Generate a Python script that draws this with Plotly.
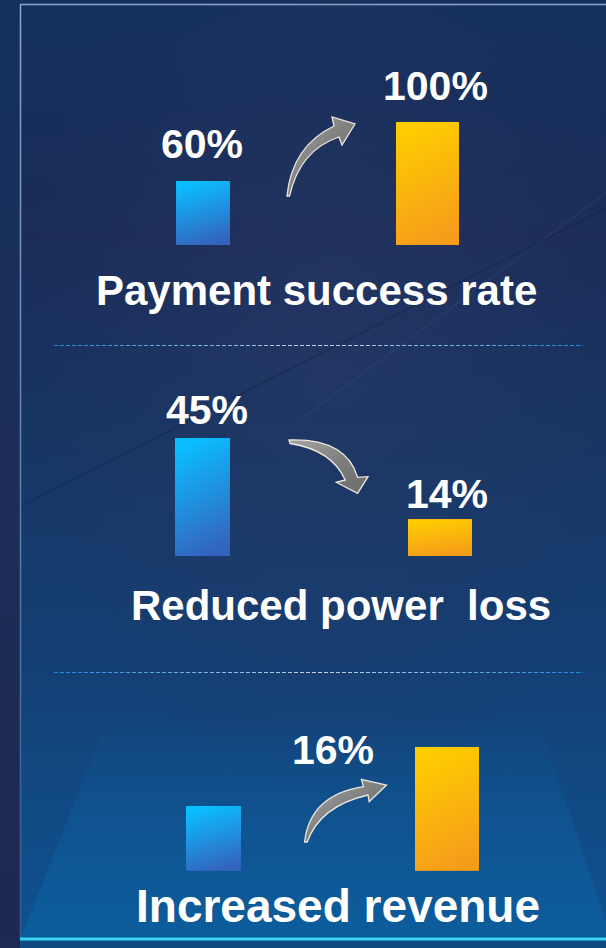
import base64
import plotly.graph_objects as go

W, H = 606, 948

# ---------------- data ----------------
stages = ["Before", "After"]
titles = ["Payment success rate", "Reduced power\u00a0 loss", "Increased revenue"]
payment_success = [60, 100]          # %
power_loss = [45, 14]                # %
revenue_index = [100, 116]           # before = 100
payment_labels = ["60%", "100%"]
power_loss_labels = ["45%", "14%"]
revenue_gain_label = "16%"

# ---------------- helpers ----------------
def fx(px):
    return px / W


def fy(py):
    return 1 - py / H


def svg_uri(svg):
    return "data:image/svg+xml;base64," + base64.b64encode(svg.encode("utf-8")).decode("ascii")


FONT = "Liberation Sans, Arial, sans-serif"

# panel layout (pixel geometry of each mini chart) - style only
panels = [
    dict(values=payment_success, labels=payment_labels, xdom=(90.75, 539.75), ydom=(245, 122),
         yr=(16.7, 100), widths=[0.24, 0.28]),
    dict(values=power_loss, labels=power_loss_labels, xdom=(83.75, 558.75), ydom=(556, 438),
         yr=(0, 45), widths=[0.232, 0.27]),
    dict(values=revenue_index, labels=None, xdom=(96.75, 563.75), ydom=(870.7, 747),
         yr=(82.45, 116), widths=[0.236, 0.274]),
]

BLUE_STOPS = ("#0abfff", "#3463be")
ORANGE_STOPS = ("#ffcd00", "#f59c1b")


def bar_svg(bw, bh, stops, r=4):
    r = min(r, bw / 2, bh / 2)
    return f'''<svg xmlns="http://www.w3.org/2000/svg" width="{bw:.2f}" height="{bh:.2f}" viewBox="0 0 {bw:.2f} {bh:.2f}" preserveAspectRatio="none">
<defs><linearGradient id="g" x1="0.35" y1="0" x2="0.6" y2="1">
<stop offset="0" stop-color="{stops[0]}"/><stop offset="1" stop-color="{stops[1]}"/></linearGradient></defs>
<path d="M0,0 H{bw:.2f} V{bh - r:.2f} Q{bw:.2f},{bh:.2f} {bw - r:.2f},{bh:.2f} H{r:.2f} Q0,{bh:.2f} 0,{bh - r:.2f} Z" fill="url(#g)"/>
</svg>'''


# ---------------- background (decoration) ----------------
arrow1 = "M287,196 Q292,146 334,126 L332,117 L355,124 L342,145 L339,137 Q300,150 289.5,196 Z"
arrow2 = "M289,440 Q346,438 357.6,477.3 L368,476.7 L357.6,493.3 L336.3,482.3 L345.2,480 Q332,450 290,443.5 Z"
arrow3 = "M304.6,842 Q310,795 363.4,786.7 L361.4,779.3 L386.5,785 L369.2,801.7 L368,795 Q320,806 307.2,842 Z"

bg_svg = f'''<svg xmlns="http://www.w3.org/2000/svg" width="{W}" height="{H}" viewBox="0 0 {W} {H}" preserveAspectRatio="none">
<defs>
<linearGradient id="bg" x1="0" y1="0" x2="0" y2="1">
<stop offset="0" stop-color="#14305c"/>
<stop offset="0.25" stop-color="#1b2c58"/>
<stop offset="0.5" stop-color="#173766"/>
<stop offset="0.7" stop-color="#143f74"/>
<stop offset="0.85" stop-color="#114a84"/>
<stop offset="1" stop-color="#0f5290"/>
</linearGradient>
<radialGradient id="glow" cx="0.55" cy="0.35" r="0.5">
<stop offset="0" stop-color="#2a3a66" stop-opacity="0.5"/>
<stop offset="1" stop-color="#2a3a66" stop-opacity="0"/>
</radialGradient>
<linearGradient id="strip" x1="0" y1="0" x2="0" y2="1">
<stop offset="0" stop-color="#13305c"/>
<stop offset="0.4" stop-color="#1c2f5a"/>
<stop offset="1" stop-color="#1e2850"/>
</linearGradient>
<linearGradient id="floor" gradientUnits="userSpaceOnUse" x1="0" y1="715" x2="0" y2="930">
<stop offset="0" stop-color="#0e5c9c" stop-opacity="0"/>
<stop offset="1" stop-color="#0c5d9c" stop-opacity="0.9"/>
</linearGradient>
<linearGradient id="frameL" gradientUnits="userSpaceOnUse" x1="0" y1="0" x2="0" y2="948">
<stop offset="0" stop-color="#8fa6cf"/>
<stop offset="1" stop-color="#2c5b92"/>
</linearGradient>
<linearGradient id="sep" gradientUnits="userSpaceOnUse" x1="54" y1="0" x2="583" y2="0">
<stop offset="0" stop-color="#1d8ad6"/>
<stop offset="0.5" stop-color="#c6d2e8"/>
<stop offset="1" stop-color="#1d8ad6"/>
</linearGradient>
<linearGradient id="af" x1="0" y1="0" x2="1" y2="1">
<stop offset="0" stop-color="#a4a4a4"/>
<stop offset="0.55" stop-color="#7c7c7c"/>
<stop offset="1" stop-color="#6c6c6c"/>
</linearGradient>
</defs>
<rect width="{W}" height="{H}" fill="url(#bg)"/>
<rect width="{W}" height="{H}" fill="url(#glow)"/>
<line x1="0" y1="517" x2="606" y2="208" stroke="#0e1c40" stroke-opacity="0.35" stroke-width="1.2"/>
<line x1="300" y1="420" x2="606" y2="193" stroke="#6f8fc4" stroke-opacity="0.12" stroke-width="1.2"/>
<polygon points="104,728 541,728 612,940 20,940" fill="url(#floor)"/>
<rect x="0" y="0" width="20" height="{H}" fill="url(#strip)"/>
<line x1="20.5" y1="4.5" x2="20.5" y2="940" stroke="url(#frameL)" stroke-width="1.5"/>
<line x1="20" y1="4.5" x2="606" y2="4.5" stroke="#8da4cc" stroke-width="1.5"/>
<rect x="20" y="941" width="586" height="7" fill="#104a80"/>
<line x1="20" y1="939" x2="606" y2="939" stroke="#38d4f0" stroke-width="3"/>
<line x1="54" y1="345.5" x2="583" y2="345.5" stroke="url(#sep)" stroke-width="1" stroke-dasharray="4 2"/>
<line x1="54" y1="672.5" x2="583" y2="672.5" stroke="url(#sep)" stroke-width="1" stroke-dasharray="4 2"/>
<g fill="url(#af)" stroke="#ece8dc" stroke-width="1.3" stroke-linejoin="miter">
<path d="{arrow1}"/><path d="{arrow2}"/><path d="{arrow3}"/>
</g>
</svg>'''

# ---------------- figure ----------------
fig = go.Figure()
layout = dict(
    width=W, height=H,
    margin=dict(l=0, r=0, t=0, b=0),
    paper_bgcolor="#163560",
    plot_bgcolor="rgba(0,0,0,0)",
    showlegend=False,
    bargap=0,
)

images = [dict(source=svg_uri(bg_svg), xref="paper", yref="paper", x=0, y=1, sizex=1, sizey=1,
               xanchor="left", yanchor="top", sizing="stretch", layer="below")]
annotations = []

for k, p in enumerate(panels):
    s = "" if k == 0 else str(k + 1)
    xname, yname = "x" + s, "y" + s
    fig.add_trace(go.Bar(
        x=stages, y=p["values"], width=p["widths"],
        marker=dict(color=[BLUE_STOPS[1], ORANGE_STOPS[1]], line=dict(width=0)),
        xaxis=xname, yaxis=yname, hoverinfo="x+y", showlegend=False,
    ))
    layout["xaxis" + s] = dict(domain=[fx(p["xdom"][0]), fx(p["xdom"][1])], range=[-0.5, 1.5],
                               visible=False, anchor=yname, fixedrange=True)
    layout["yaxis" + s] = dict(domain=[fy(p["ydom"][0]), fy(p["ydom"][1])], range=list(p["yr"]),
                               visible=False, anchor=xname, fixedrange=True)

    # gradient skin of each bar, placed on the same axes from the same values
    unit_px = (p["xdom"][1] - p["xdom"][0]) / 2.0
    dom_h = p["ydom"][0] - p["ydom"][1]
    span = p["yr"][1] - p["yr"][0]
    lo = max(0, p["yr"][0])
    for i, v in enumerate(p["values"]):
        w = p["widths"][i]
        bw = w * unit_px
        bh = (v - lo) / span * dom_h
        stops = BLUE_STOPS if i == 0 else ORANGE_STOPS
        images.append(dict(source=svg_uri(bar_svg(bw, bh, stops)), xref=xname, yref=yname,
                           x=i - w / 2, y=v, sizex=w, sizey=v - lo, xanchor="left", yanchor="top",
                           sizing="stretch", layer="above"))

# value labels
label_font = dict(family=FONT, size=41, color="white")
label_pos = [  # (panel, x index, xshift, y pixel)
    (0, 0, -1, 143.5), (0, 1, 7.5, 86.3),
    (1, 0, 4.5, 410), (1, 1, 7, 493.5),
]
for (pk, xi, xs, ypx) in label_pos:
    s = "" if pk == 0 else str(pk + 1)
    text = panels[pk]["labels"][xi]
    annotations.append(dict(text=f"<b>{text}</b>", xref="x" + s, x=xi, xshift=xs,
                            yref="paper", y=fy(ypx), yanchor="middle", xanchor="center",
                            showarrow=False, font=label_font))
annotations.append(dict(text=f"<b>{revenue_gain_label}</b>", xref="x3", x=0.5, xshift=3,
                        yref="paper", y=fy(750), yanchor="middle", xanchor="center",
                        showarrow=False, font=label_font))

# panel titles
title_pos = [(316, 290.5, 42), (341, 605.3, 42), (338, 906, 46)]
for t, (xp, yp, fs) in zip(titles, title_pos):
    annotations.append(dict(text=f"<b>{t}</b>", xref="paper", x=fx(xp), yref="paper", y=fy(yp),
                            xanchor="center", yanchor="middle", showarrow=False,
                            font=dict(family=FONT, size=fs, color="white")))

layout["images"] = images
layout["annotations"] = annotations
fig.update_layout(**layout)

fig.write_html("out.html", config={"displayModeBar": False},
               post_script="document.body.style.margin='0';document.body.style.overflow='hidden';")
